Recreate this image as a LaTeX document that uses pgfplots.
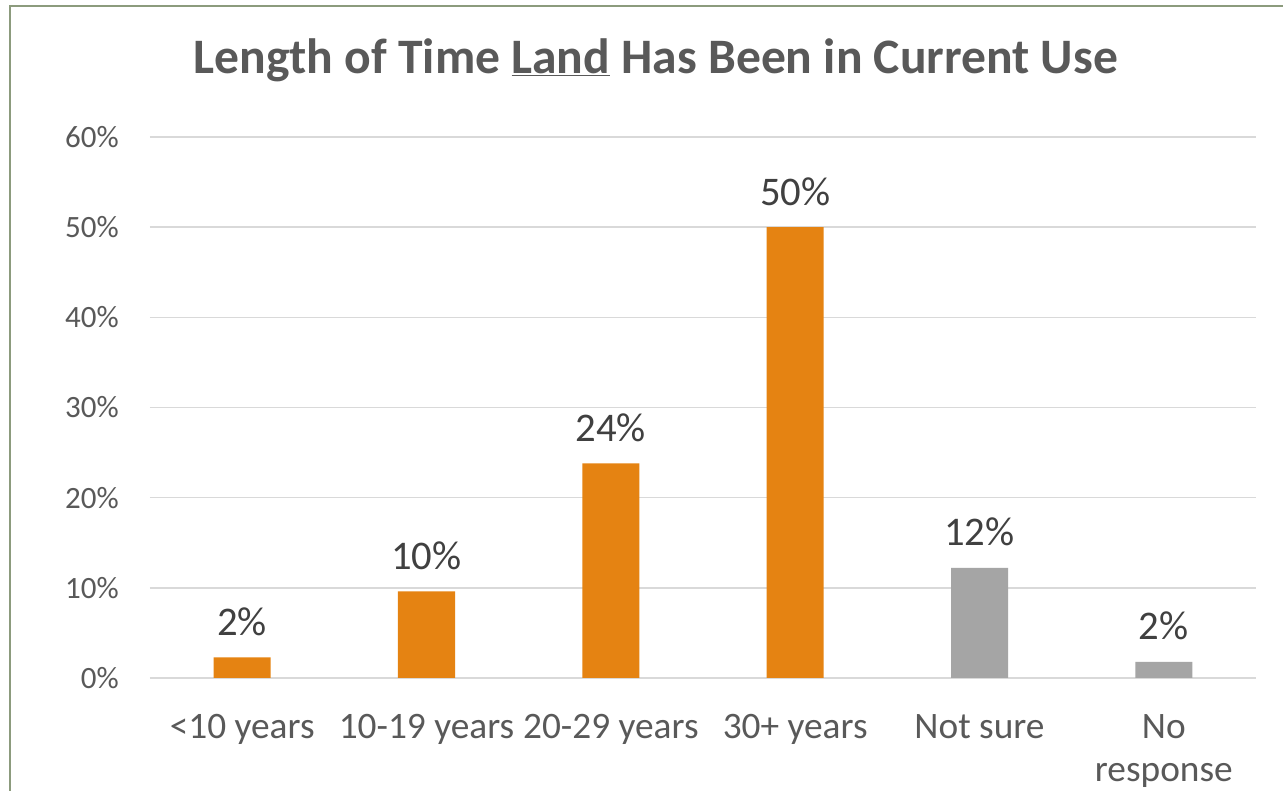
\documentclass[border=0pt]{standalone}
\usepackage{fontspec}
\setmainfont{Carlito}
\usepackage{pgfplots}
\pgfplotsset{compat=1.18}
\definecolor{barorange}{RGB}{229,131,18}
\definecolor{bargray}{RGB}{165,165,165}
\definecolor{gridgray}{RGB}{217,217,217}
\definecolor{txtgray}{RGB}{89,89,89}
\definecolor{lblgray}{RGB}{64,64,64}
\definecolor{framegreen}{RGB}{140,155,125}

\begin{document}
\begin{tikzpicture}
\useasboundingbox (0pt,0pt) rectangle (962.25pt,593.25pt);
\clip (0pt,0pt) rectangle (962.25pt,593.25pt);
\fill[white] (0pt,0pt) rectangle (962.25pt,593.25pt);
% chart frame (cut off at right and bottom)
\draw[framegreen, line width=1.5pt] (7.5pt,-20pt) -- (7.5pt,588.75pt) -- (1000pt,588.75pt);
\node[font=\fontsize{37.2}{45}\selectfont\bfseries, text=txtgray] at (492pt,548pt)
  {Length of Time \underline{Land} Has Been in Current Use};
\begin{axis}[
    at={(112.5pt,84.75pt)}, anchor=south west,
    scale only axis, width=829.5pt, height=405.75pt,
    ybar, bar width=42.75pt, bar shift=0pt,
    xmin=-0.5, xmax=5.5, ymin=0, ymax=60,
    axis line style={draw=none},
    major tick length=0pt,
    ymajorgrids, grid style={gridgray, line width=1.1pt},
    ytick={0,10,...,60},
    yticklabel={\pgfmathprintnumber{\tick}\%},
    /pgf/number format/assume math mode=true,
    yticklabel style={font=\fontsize{23.25}{28}\selectfont, text=txtgray,
        anchor=east, inner sep=0pt, xshift=-23.25pt},
    xtick={0,...,5},
    xticklabels={<10 years, 10-19 years, 20-29 years, 30+ years, Not sure, No\\response},
    xticklabel style={font=\fontsize{28}{32}\selectfont, text=txtgray,
        align=center, anchor=north, inner sep=0pt, yshift=-27.3pt},
    nodes near coords={\pgfmathprintnumber[fixed,precision=0]{\pgfplotspointmeta}\%},
    every node near coord/.append style={font=\fontsize{30.5}{36}\selectfont,
        text=lblgray, anchor=base, inner sep=0pt, yshift=16.5pt},
]
\addplot[fill=barorange, draw=none] coordinates {(0,2.3) (1,9.6) (2,23.8) (3,50.0)};
\addplot[fill=bargray, draw=none] coordinates {(4,12.2) (5,1.8)};
\end{axis}
\end{tikzpicture}
\end{document}
